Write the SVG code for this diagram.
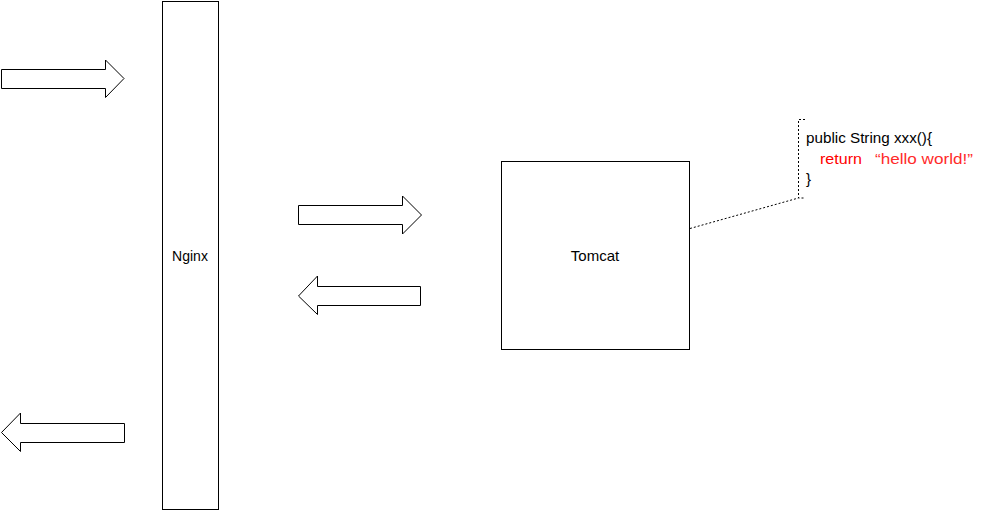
<svg xmlns="http://www.w3.org/2000/svg" width="991" height="511" viewBox="0 0 991 511">
<style>
.shape{fill:#fff;stroke:#000;stroke-width:1}
.lbl{font-family:"Liberation Sans",Arial,sans-serif;font-size:14px;fill:#000}
.code{font-family:"Liberation Sans",Arial,sans-serif;font-size:15px}
.dot{fill:none;stroke:#000;stroke-width:1;stroke-dasharray:2 2}
</style>
<rect width="991" height="511" fill="#fff"/>
<g id="nginx">
<rect class="shape" x="162.5" y="1.5" width="56" height="508"/>
<text class="lbl" x="190" y="261" text-anchor="middle">Nginx</text>
</g>
<g id="tomcat">
<rect class="shape" x="501.5" y="161.5" width="188" height="188"/>
<text class="lbl" x="595" y="261" text-anchor="middle" style="font-size:15px">Tomcat</text>
</g>
<g id="code-note">
<text class="code" x="806" y="143" fill="#000" textLength="126" lengthAdjust="spacingAndGlyphs">public String xxx(){</text>
<text class="code" x="820" y="164" fill="#ff0000" textLength="42" lengthAdjust="spacingAndGlyphs">return</text>
<text class="code" x="875" y="164" fill="#ff2a2a" textLength="98" lengthAdjust="spacingAndGlyphs">“hello world!”</text>
<text class="code" x="806" y="184" fill="#000">}</text>
</g>
<g id="connectors">
<path class="shape" d="M1.5,69.5 H105.5 V60 L124,78.5 L105.5,97.5 V88.5 H1.5 Z"/>
<path class="shape" d="M298.5,205.5 H402.5 V196 L421.5,215 L402.5,234 V224.5 H298.5 Z"/>
<path class="shape" d="M420.5,286.5 H317.5 V276 L298.5,296 L317.5,314.5 V305.5 H420.5 Z"/>
<path class="shape" d="M124.5,423.5 H20.5 V413 L1.5,432.5 L20.5,451.5 V442.5 H124.5 Z"/>
<path class="dot" d="M805,119.5 H798.5 V198 H805"/>
<path class="dot" d="M690,228.5 L798.5,198"/>
</g>
</svg>
